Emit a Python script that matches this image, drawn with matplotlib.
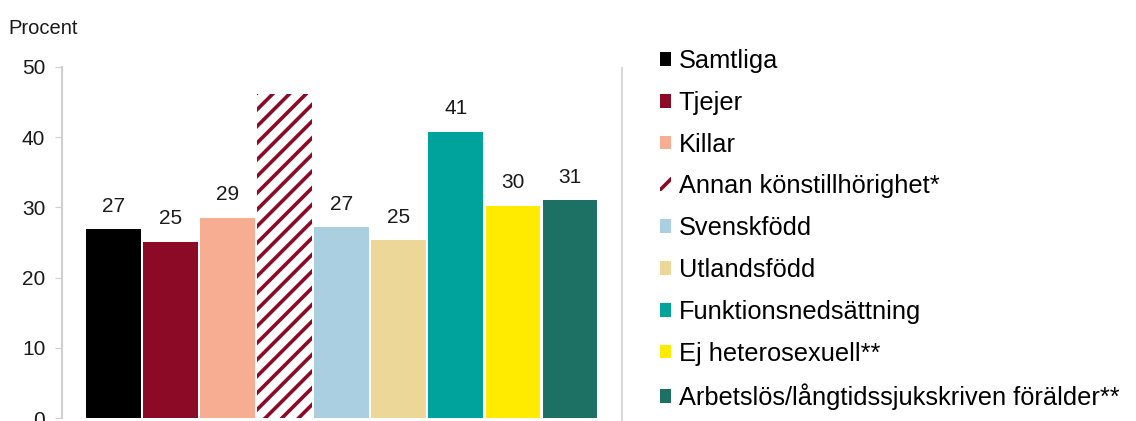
import matplotlib
matplotlib.use("Agg")

import matplotlib.pyplot as plt
from matplotlib.patches import Patch
from matplotlib.lines import Line2D

# Andel i procent per grupp
categories = [
    "Samtliga",
    "Tjejer",
    "Killar",
    "Annan könstillhörighet*",
    "Svenskfödd",
    "Utlandsfödd",
    "Funktionsnedsättning",
    "Ej heterosexuell**",
    "Arbetslös/långtidssjukskriven förälder**",
]
values = [26.9, 25.1, 28.5, 46.1, 27.2, 25.3, 40.8, 30.2, 31.0]
value_labels = ["27", "25", "29", "", "27", "25", "41", "30", "31"]
colors = [
    "#000000", "#8c0a26", "#f6ad91", "#ffffff", "#a9cfe1",
    "#ecd798", "#00a39c", "#ffeb00", "#1c7064",
]
hatched = [False, False, False, True, False, False, False, False, False]
yticks = [0, 10, 20, 30, 40, 50]

plt.rcParams["font.family"] = ["Liberation Sans", "DejaVu Sans"]
plt.rcParams["hatch.linewidth"] = 2.6

W, H = 1136, 421
fig = plt.figure(figsize=(W / 100, H / 100), dpi=100)
ax = fig.add_axes([62 / W, 3 / H, (610 - 62) / W, (418 - 67) / H])

for i, v in enumerate(values):
    if hatched[i]:
        ax.bar(i, v, width=0.96, color="white", edgecolor="#8c0a26",
               hatch="//", linewidth=0)
    else:
        ax.bar(i, v, width=0.96, color=colors[i], linewidth=0)
    if value_labels[i]:
        ax.text(i, v + 2.5, value_labels[i], ha="center", va="baseline",
                fontsize=15, color="#1a1a1a")

ax.set_ylim(0, 50)
ax.set_xlim(-0.9, len(values) - 0.3)
ax.set_yticks(yticks)
ax.tick_params(axis="y", labelsize=15, length=5, color="#d0d0d0",
               pad=7, labelcolor="#1a1a1a")
ax.set_xticks([])
for s in ["top", "right", "bottom"]:
    ax.spines[s].set_visible(False)
ax.spines["left"].set_color("#d0d0d0")
ax.spines["left"].set_linewidth(1.5)

fig.text(8 / W, 1 - 28 / H, "Procent", fontsize=14.5, va="center",
         ha="left", color="#1a1a1a")

# vertikal skiljelinje mot legenden
fig.add_artist(Line2D([622 / W, 622 / W], [0, 1 - 68 / H],
                      color="#d9d9d9", linewidth=1.5))

handles = []
for i, c in enumerate(colors):
    if hatched[i]:
        handles.append(Patch(facecolor="white", edgecolor="#8c0a26",
                             hatch="//", linewidth=0))
    else:
        handles.append(Patch(facecolor=c, linewidth=0))

fig.legend(handles, categories, loc="upper left",
           bbox_to_anchor=(660 / W, 1 - 49 / H), frameon=False,
           fontsize=18.3, handlelength=0.45, handleheight=0.45,
           handletextpad=0.28, labelspacing=0.7, borderaxespad=0,
           borderpad=0)

fig.savefig("out.png", dpi=100)
